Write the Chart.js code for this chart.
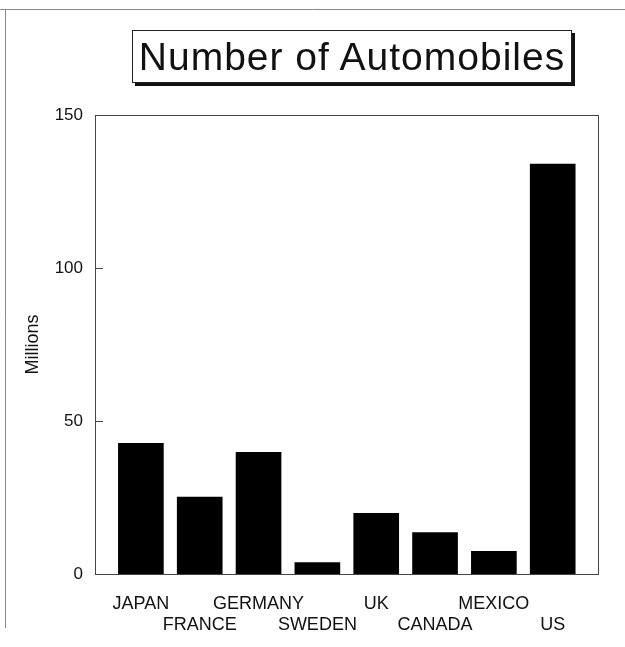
<!DOCTYPE html>
<html>
<head>
<meta charset="utf-8">
<script src="https://cdn.jsdelivr.net/npm/chart.js@4.4.1/dist/chart.umd.min.js"></script>
<style>
   html, body { margin: 0; padding: 0; background: #fff; }
   #wrap { position: relative; width: 625px; height: 647px; }
   #chartTitle {
      position: absolute;
      left: 132px; top: 30px;
      width: 440px; height: 53px;
      box-sizing: border-box;
      border: 1px solid #222;
      box-shadow: 3px 3px 0 #111;
      background: #fff;
      font-family: 'Liberation Sans', Arial, sans-serif;
      font-size: 39px;
      letter-spacing: 1px;
      line-height: 51px;
      text-align: center;
      color: #111;
   }
</style>
</head>
<body>
<div id="wrap">
   <canvas id="chart" width="625" height="647"></canvas>
   <div id="chartTitle">Number of Automobiles</div>
</div>
<script>
const categories = ['JAPAN', 'FRANCE', 'GERMANY', 'SWEDEN', 'UK', 'CANADA', 'MEXICO', 'US'];
const cars = [42.7, 25.1, 39.8, 3.7, 19.8, 13.5, 7.4, 134];
const yTicks = [0, 50, 100, 150];
const yLabel = 'Millions';

Chart.defaults.color = '#111';
Chart.defaults.font = {
   family: "'Liberation Sans', Arial, sans-serif",
   size: 17
};

// page frame + the box round the plot + small inward ticks on the y axis
let FramePlugin = {
   id: 'frame',
   beforeDraw: (chart) => {
      const ctx = chart.ctx;
      ctx.save();
      ctx.strokeStyle = '#888';
      ctx.lineWidth = 1;
      ctx.beginPath();
      ctx.moveTo(0, 9.5);
      ctx.lineTo(625, 9.5);
      ctx.moveTo(5.5, 9);
      ctx.lineTo(5.5, 628);
      ctx.stroke();
      ctx.restore();
   },
   afterDraw: (chart) => {
      const ctx = chart.ctx;
      const a = chart.chartArea;
      const y = chart.scales.y;
      ctx.save();
      ctx.strokeStyle = '#444';
      ctx.lineWidth = 1;
      ctx.strokeRect(Math.round(a.left) + 0.5, Math.round(a.top) + 0.5,
         Math.round(a.right - a.left), Math.round(a.bottom - a.top));
      ctx.beginPath();
      yTicks.forEach((v) => {
         const py = Math.round(y.getPixelForValue(v)) + 0.5;
         ctx.moveTo(a.left, py);
         ctx.lineTo(a.left + 8, py);
      });
      ctx.stroke();
      ctx.restore();
   }
};

new Chart(document.getElementById('chart'), {
   type: 'bar',
   data: {
      datasets: [{
         data: cars.map((v, i) => ({ x: i, y: v })),
         backgroundColor: '#000',
         borderWidth: 0,
         barThickness: 45
      }]
   },
   options: {
      responsive: false,
      animation: false,
      events: [],
      layout: {
         padding: { top: 115, right: 27, bottom: 10, left: 0 }
      },
      plugins: {
         legend: { display: false },
         tooltip: { enabled: false }
      },
      scales: {
         x: {
            type: 'linear',
            offset: false,
            min: -0.78,
            max: 7.77,
            grid: { display: false },
            border: { display: true, color: '#444' },
            afterBuildTicks: (scale) => {
               scale.ticks = categories.map((c, i) => ({ value: i }));
            },
            afterFit: (scale) => { scale.height = 63; },
            ticks: {
               autoSkip: false,
               maxRotation: 0,
               padding: 11,
               font: { size: 18, lineHeight: 1.2 },
               callback: (v) => {
                  const name = categories[v];
                  if (!name) return '';
                  return v % 2 ? ['', name] : [name, ''];
               }
            }
         },
         y: {
            min: 0,
            max: 150,
            grid: { display: false },
            border: { display: true, color: '#444' },
            afterFit: (scale) => { scale.width = 95; },
            afterBuildTicks: (scale) => {
               scale.ticks = yTicks.map((v) => ({ value: v }));
            },
            ticks: { padding: 4, font: { size: 17 } },
            title: {
               display: true,
               text: yLabel,
               font: { size: 18 },
               padding: { top: 22, bottom: 0 }
            }
         }
      }
   },
   plugins: [FramePlugin]
});
</script>
</body>
</html>
